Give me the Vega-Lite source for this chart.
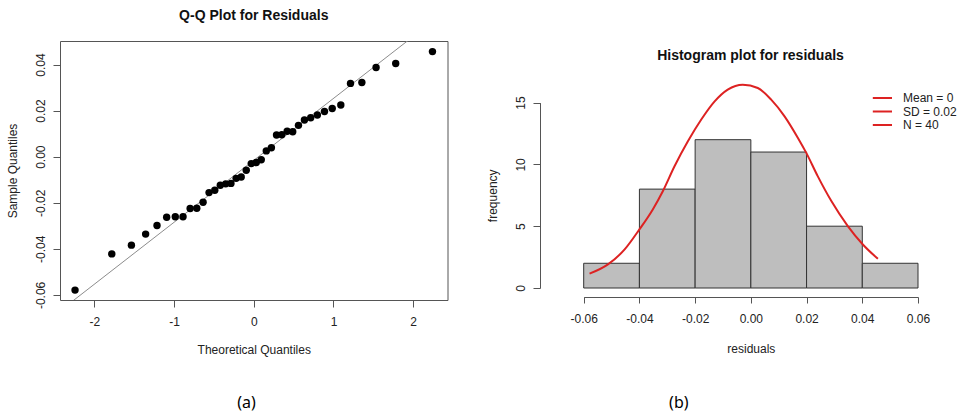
{
  "$schema": "https://vega.github.io/schema/vega-lite/v6.json",
  "background": "white",
  "padding": {"left": 5, "top": 8, "right": 0, "bottom": 0},
  "bounds": "flush",
  "spacing": 92,
  "config": {
    "view": {"stroke": null},
    "font": "Liberation Sans",
    "axis": {
      "labelFont": "Liberation Sans", "labelFontSize": 12, "labelColor": "#222",
      "titleFont": "Liberation Sans", "titleFontSize": 12, "titleFontWeight": "normal", "titleColor": "#222",
      "domainColor": "#555", "tickColor": "#555", "tickSize": 7, "grid": false,
      "labelOverlap": false, "labelFlush": false
    }
  },
  "hconcat": [
    {
      "width": 387.5,
      "height": 259,
      "title": {"text": "Q-Q Plot for Residuals", "fontSize": 14, "fontWeight": "bold", "font": "Liberation Sans", "color": "#111", "offset": 18, "anchor": "middle", "frame": "group"},
      "view": {"stroke": "#555", "strokeWidth": 1},
      "layer": [
        {
          "data": {"values": [{"tq": -2.6, "sq": -0.0715}, {"tq": 2.6, "sq": 0.0683}]},
          "mark": {"type": "line", "color": "#8c8c8c", "strokeWidth": 1, "clip": true},
          "encoding": {
            "x": {"field": "tq", "type": "quantitative",
              "scale": {"domain": [-2.43, 2.43], "nice": false, "zero": false},
              "axis": {"values": [-2, -1, 0, 1, 2], "format": "d", "labelExpr": "replace(datum.label, '−', '-')", "title": "Theoretical Quantiles", "labelPadding": 9, "titlePadding": 17, "domain": false}},
            "y": {"field": "sq", "type": "quantitative",
              "scale": {"domain": [-0.0622, 0.0502], "nice": false, "zero": false},
              "axis": {"values": [-0.06, -0.04, -0.02, 0, 0.02, 0.04], "format": ".2f", "labelExpr": "replace(datum.label, '−', '-')", "labelAngle": -90, "labelAlign": "center", "labelBaseline": "bottom", "labelPadding": 6, "title": "Sample Quantiles", "titlePadding": 15, "domain": false}}
          }
        },
        {
          "data": {"values": [
            {"tq": -2.2414, "sq": -0.0579}, {"tq": -1.7805, "sq": -0.0422}, {"tq": -1.5341, "sq": -0.0384}, {"tq": -1.356, "sq": -0.0336},
            {"tq": -1.2133, "sq": -0.0299}, {"tq": -1.092, "sq": -0.0263}, {"tq": -0.9842, "sq": -0.0261}, {"tq": -0.8871, "sq": -0.0261},
            {"tq": -0.7978, "sq": -0.0225}, {"tq": -0.7144, "sq": -0.0224}, {"tq": -0.6356, "sq": -0.0198}, {"tq": -0.5607, "sq": -0.0156},
            {"tq": -0.4888, "sq": -0.0146}, {"tq": -0.4193, "sq": -0.0124}, {"tq": -0.3518, "sq": -0.0118}, {"tq": -0.2858, "sq": -0.0116},
            {"tq": -0.2211, "sq": -0.0094}, {"tq": -0.1573, "sq": -0.0088}, {"tq": -0.0941, "sq": -0.0059}, {"tq": -0.0313, "sq": -0.003},
            {"tq": 0.0313, "sq": -0.0025}, {"tq": 0.0941, "sq": -0.0013}, {"tq": 0.1573, "sq": 0.0025}, {"tq": 0.2211, "sq": 0.0039},
            {"tq": 0.2858, "sq": 0.0094}, {"tq": 0.3518, "sq": 0.0095}, {"tq": 0.4193, "sq": 0.011}, {"tq": 0.4888, "sq": 0.0108},
            {"tq": 0.5607, "sq": 0.0136}, {"tq": 0.6356, "sq": 0.0159}, {"tq": 0.7144, "sq": 0.0169}, {"tq": 0.7978, "sq": 0.0181},
            {"tq": 0.8871, "sq": 0.0196}, {"tq": 0.9842, "sq": 0.0209}, {"tq": 1.092, "sq": 0.0224}, {"tq": 1.2133, "sq": 0.0318},
            {"tq": 1.356, "sq": 0.0322}, {"tq": 1.5341, "sq": 0.0387}, {"tq": 1.7805, "sq": 0.0404}, {"tq": 2.2414, "sq": 0.0456}
          ]},
          "mark": {"type": "circle", "size": 55, "color": "#000", "opacity": 1},
          "encoding": {
            "x": {"field": "tq", "type": "quantitative",
              "axis": {"orient": "bottom", "title": "(a)", "labels": false, "ticks": false, "domain": false, "titleFont": "Noto Sans", "titleFontSize": 16, "titleColor": "#000", "titlePadding": 94, "titleX": 186}},
            "y": {"field": "sq", "type": "quantitative"}
          }
        }
      ],
      "resolve": {"axis": {"x": "independent"}}
    },
    {
      "width": 421,
      "height": 256,
      "title": {"text": "Histogram plot for residuals", "fontSize": 14, "fontWeight": "bold", "font": "Liberation Sans", "color": "#111", "offset": -22, "anchor": "middle", "frame": "group"},
      "layer": [
        {
          "data": {"values": [
            {"lo": -0.06, "hi": -0.04, "count": 2}, {"lo": -0.04, "hi": -0.02, "count": 8}, {"lo": -0.02, "hi": 0, "count": 12},
            {"lo": 0, "hi": 0.02, "count": 11}, {"lo": 0.02, "hi": 0.04, "count": 5}, {"lo": 0.04, "hi": 0.06, "count": 2}
          ]},
          "mark": {"type": "rect", "fill": "#bebebe", "stroke": "#333", "strokeWidth": 1},
          "encoding": {
            "x": {"field": "lo", "type": "quantitative",
              "scale": {"domain": [-0.06, 0.06], "range": [43.7, 378], "nice": false, "zero": false},
              "axis": {"values": [-0.06, -0.04, -0.02, 0, 0.02, 0.04, 0.06], "format": ".2f", "labelExpr": "replace(datum.label, '−', '-')", "title": "residuals", "labelPadding": 10, "titlePadding": 19, "tickSize": 6}},
            "x2": {"field": "hi"},
            "y": {"field": "count", "type": "quantitative",
              "scale": {"domain": [0, 15], "range": [247, 61.6], "nice": false, "zero": false},
              "axis": {"values": [0, 5, 10, 15], "labelAngle": -90, "labelAlign": "center", "labelBaseline": "bottom", "labelPadding": 6, "title": "frequency", "titlePadding": 15}},
            "y2": {"datum": 0}
          }
        },
        {
          "data": {"values": [
            {"res": -0.0579, "freq": 1.16}, {"res": -0.0513, "freq": 1.91}, {"res": -0.0453, "freq": 3.12}, {"res": -0.04, "freq": 4.74},
            {"res": -0.0352, "freq": 6.36}, {"res": -0.0316, "freq": 7.83}, {"res": -0.0274, "freq": 9.85}, {"res": -0.0226, "freq": 11.87},
            {"res": -0.0178, "freq": 13.63}, {"res": -0.013, "freq": 15.1}, {"res": -0.0083, "freq": 16.05}, {"res": -0.0029, "freq": 16.45},
            {"res": 0.0025, "freq": 16.18}, {"res": 0.0073, "freq": 15.24}, {"res": 0.0121, "freq": 13.89}, {"res": 0.0169, "freq": 12.14},
            {"res": 0.0199, "freq": 10.93}, {"res": 0.024, "freq": 9.05}, {"res": 0.0289, "freq": 7.03}, {"res": 0.0348, "freq": 5.01},
            {"res": 0.0402, "freq": 3.52}, {"res": 0.0456, "freq": 2.36}
          ]},
          "mark": {"type": "line", "color": "#dd2222", "strokeWidth": 2, "interpolate": "monotone"},
          "encoding": {
            "x": {"field": "res", "type": "quantitative",
              "axis": {"orient": "bottom", "title": "(b)", "labels": false, "ticks": false, "domain": false, "titleFont": "Noto Sans", "titleFontSize": 16, "titleColor": "#000", "titlePadding": 97, "titleX": 138.3}},
            "y": {"field": "freq", "type": "quantitative"}
          }
        },
        {
          "data": {"values": [{"stat": "Mean = 0"}, {"stat": "SD = 0.02"}, {"stat": "N = 40"}]},
          "mark": {"type": "rule", "opacity": 0},
          "encoding": {
            "x": {"datum": 0, "type": "quantitative", "axis": null},
            "color": {"field": "stat", "type": "nominal",
              "scale": {"domain": ["Mean = 0", "SD = 0.02", "N = 40"], "range": ["#dd2222", "#dd2222", "#dd2222"]},
              "legend": {"orient": "none", "legendX": 815.4, "legendY": 50, "title": null, "symbolType": "M-1.6,0H1.6", "symbolSize": 144, "symbolStrokeWidth": 2, "symbolStrokeColor": "#dd2222", "symbolOpacity": 1, "labelFont": "Liberation Sans", "labelFontSize": 12, "labelColor": "#222", "labelOffset": 13.6, "rowPadding": 0.5, "padding": 0}}
          }
        }
      ],
      "resolve": {"axis": {"x": "independent"}}
    }
  ]
}
